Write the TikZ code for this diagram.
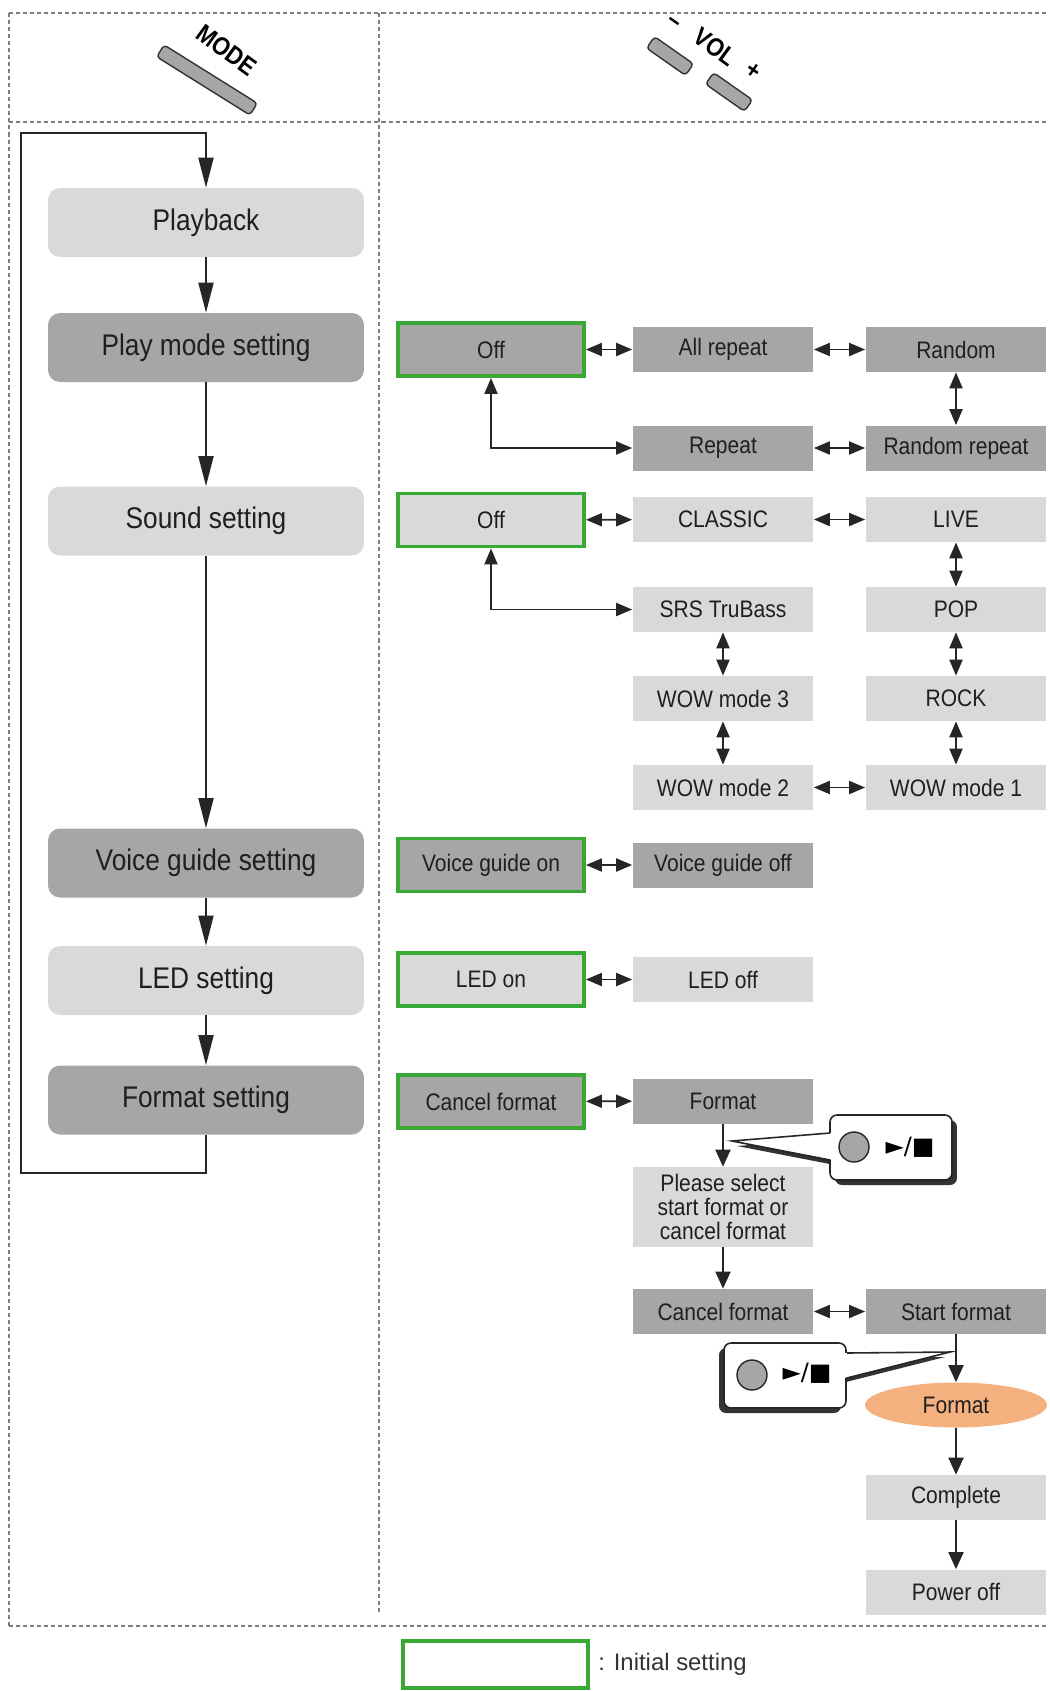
\documentclass[tikz,border=0pt]{standalone}
\usepackage{fontspec}
\setmainfont{Liberation Sans}[FakeStretch=0.88]
\newfontfamily\symfont{DejaVu Sans}
\newfontfamily\legendfont{Liberation Sans}
\usetikzlibrary{arrows.meta,shapes.geometric}
\definecolor{lgray}{RGB}{217,217,217}
\definecolor{dgray}{RGB}{166,166,166}
\definecolor{initgreen}{RGB}{58,168,52}
\definecolor{fmtorange}{RGB}{245,176,128}
\definecolor{framegray}{RGB}{125,125,125}
\begin{document}
\begin{tikzpicture}[x=0.02cm,y=-0.02cm,
  mainbox/.style={rounded corners=0.24cm, minimum width=6.32cm, minimum height=1.38cm,
    inner sep=0pt, text=black!88, font=\fontsize{17}{18}\selectfont},
  lightmain/.style={mainbox, fill=lgray},
  darkmain/.style={mainbox, fill=dgray},
  item/.style={minimum width=3.62cm, minimum height=0.9cm, inner sep=0pt,
    text=black!88, font=\fontsize{13.6}{13.8}\selectfont},
  lightitem/.style={item, fill=lgray},
  darkitem/.style={item, fill=dgray},
  initlight/.style={item, fill=lgray, draw=initgreen, line width=2.2pt,
    minimum width=3.72cm, minimum height=1.06cm},
  initdark/.style={initlight, fill=dgray},
  flow/.style={line width=1.1pt, black!85, -{Triangle[length=0.6cm,width=0.3cm]}},
  onearrow/.style={line width=1.1pt, black!85, -{Triangle[length=0.34cm,width=0.3cm]}},
  link/.style={line width=1.1pt, black!85,
    {Triangle[length=0.32cm,width=0.26cm]}-{Triangle[length=0.32cm,width=0.26cm]}},
  dashframe/.style={framegray, line width=1.1pt, dash pattern=on 2.3pt off 1.7pt},
  btn/.style={draw=black!80, fill=black!35, rounded corners=2pt, inner sep=0pt,
    minimum height=0.28cm, line width=0.8pt},
  btnlabel/.style={inner sep=0pt, font=\fontsize{14.5}{14.5}\selectfont\bfseries},
  hintbox/.style={draw=black!85, fill=white, line width=0.9pt, rounded corners=0.14cm,
    minimum width=2.44cm, minimum height=1.3cm, inner sep=0pt},
  hintshadow/.style={fill=black!80, rounded corners=0.14cm,
    minimum width=2.44cm, minimum height=1.3cm, inner sep=0pt},
  knob/.style={circle, draw=black!85, fill=black!35, line width=0.8pt, minimum size=0.6cm, inner sep=0pt},
  keys/.style={inner sep=0pt, font=\symfont\fontsize{13.6}{14}\selectfont},
]
\useasboundingbox (0,0) rectangle (1050,1691);
% Frame
\draw[dashframe] (9,13) -- (1048,13);
\draw[dashframe] (9,122) -- (1048,122);
\draw[dashframe] (9,1626) -- (1048,1626);
\draw[dashframe] (9,13) -- (9,1626);
\draw[dashframe] (379,13) -- (379,1612);
% Buttons
\node[btn, minimum width=2.2cm, rotate=-32] (modebtn) at (207,80) {};
\node[btnlabel, rotate=-36] (modelbl) at (227,50) {MODE};
\node[btn, minimum width=0.95cm, rotate=-35] (voldown) at (670,56) {};
\node[btn, minimum width=0.95cm, rotate=-35] (volup) at (729,92) {};
\node[btnlabel, rotate=-36] (vollbl) at (715,47) {VOL};
\node[btnlabel, rotate=-35] (volminus) at (673,24) {–};
\node[btnlabel, rotate=-35] (volplus) at (753,71) {+};
% Modes
\node[lightmain] (play) at (206,222.5) {Playback};
\node[darkmain] (playmode) at (206,347.5) {Play mode setting};
\node[lightmain] (sound) at (206,521) {Sound setting};
\node[darkmain] (voice) at (206,863) {Voice guide setting};
\node[lightmain] (led) at (206,980.5) {LED setting};
\node[darkmain] (fmtset) at (206,1100) {Format setting};
\draw[flow] (play) -- (playmode);
\draw[flow] (playmode) -- (sound);
\draw[flow] (sound) -- (voice);
\draw[flow] (voice) -- (led);
\draw[flow] (led) -- (fmtset);
\draw[flow] (fmtset.south) -- ++(0,38) -| (21,133) -| (play.north);
% Play mode
\node[initdark] (pmoff) at (491,349.5) {Off};
\node[darkitem] (allrep) at (723,349.5) {All repeat};
\node[darkitem] (random) at (956,349.5) {Random};
\node[darkitem] (repeat) at (723,448) {Repeat};
\node[darkitem] (randrep) at (956,448) {Random repeat};
\draw[link] (pmoff) -- (allrep);
\draw[link] (allrep) -- (random);
\draw[link] (random) -- (randrep);
\draw[link] (randrep) -- (repeat);
\draw[link] (pmoff.south) |- (repeat.west);
% Sound
\node[initlight] (sndoff) at (491,520) {Off};
\node[lightitem] (classic) at (723,519.5) {CLASSIC};
\node[lightitem] (live) at (956,519.5) {LIVE};
\node[lightitem] (srs) at (723,609.5) {SRS TruBass};
\node[lightitem] (pop) at (956,609.5) {POP};
\node[lightitem] (wowiii) at (723,698.5) {WOW mode 3};
\node[lightitem] (rock) at (956,698.5) {ROCK};
\node[lightitem] (wowii) at (723,787.5) {WOW mode 2};
\node[lightitem] (wowi) at (956,787.5) {WOW mode 1};
\draw[link] (sndoff) -- (classic);
\draw[link] (classic) -- (live);
\draw[link] (live) -- (pop);
\draw[link] (pop) -- (rock);
\draw[link] (rock) -- (wowi);
\draw[link] (wowi) -- (wowii);
\draw[link] (wowii) -- (wowiii);
\draw[link] (wowiii) -- (srs);
\draw[link] (sndoff.south) |- (srs.west);
% Voice guide
\node[initdark] (vgon) at (491,865) {Voice guide on};
\node[darkitem] (vgoff) at (723,865) {Voice guide off};
\draw[link] (vgon) -- (vgoff);
% LED
\node[initlight] (ledon) at (491,979.5) {LED on};
\node[lightitem] (ledoff) at (723,979.5) {LED off};
\draw[link] (ledon) -- (ledoff);
% Format
\node[initdark] (cancel) at (491,1101.5) {Cancel format};
\node[darkitem] (format) at (723,1101) {Format};
\node[lightitem, minimum height=1.6cm, align=center] (select) at (723,1207) {Please select\\start format or\\cancel format};
\node[darkitem] (cancelii) at (723,1311.5) {Cancel format};
\node[darkitem] (start) at (956,1311.5) {Start format};
\node[ellipse, fill=fmtorange, minimum width=3.64cm, minimum height=0.9cm, inner sep=0pt,
  text=black!88, font=\fontsize{13.6}{13.8}\selectfont] (formatting) at (956,1405) {Format};
\node[lightitem] (complete) at (956,1497.5) {Complete};
\node[lightitem] (poweroff) at (956,1592) {Power off};
\draw[link] (cancel) -- (format);
\draw[onearrow] (format) -- (select);
\draw[onearrow] (select) -- (cancelii);
\draw[link] (cancelii) -- (start);
\draw[onearrow] (start) -- (formatting);
\draw[onearrow] (formatting) -- (complete);
\draw[onearrow] (complete) -- (poweroff);
% Key hints
\node[hintshadow] (hintshadowi) at (896,1152.5) {};
\fill[black!80] (737,1146) -- (835,1138) -- (835,1165) -- cycle;
\node[hintbox] (hinti) at (891,1147.5) {};
\coordinate (hinttipi) at (732,1141);
\fill[white] (hinttipi) -- (833,1133) -- (833,1160) -- cycle;
\draw[line width=0.9pt, black!85] (830,1133) -- (hinttipi) -- (830,1160);
\node[knob] (knobi) at (854,1147) {};
\node[keys] (keysi) at (910,1147) {►/■};
\node[hintshadow] (hintshadowii) at (780,1380.5) {};
\fill[black!80] (945,1357) -- (842,1358) -- (842,1383) -- cycle;
\node[hintbox] (hintii) at (785,1375.5) {};
\coordinate (hinttipii) at (950,1352);
\fill[white] (hinttipii) -- (844,1353) -- (844,1378) -- cycle;
\draw[line width=0.9pt, black!85] (847,1353) -- (hinttipii) -- (847,1378);
\node[knob] (knobii) at (752,1375) {};
\node[keys] (keysii) at (807,1373) {►/■};
% Legend
\node[draw=initgreen, line width=2.2pt, minimum width=3.7cm, minimum height=0.94cm, inner sep=0pt] (legendbox) at (495.5,1664.5) {};
\node[anchor=west, inner sep=0pt, text=black!80, font=\legendfont\fontsize{13.6}{14}\selectfont] (legendtxt) at (598,1664.5) {: Initial setting};
\end{tikzpicture}
\end{document}
